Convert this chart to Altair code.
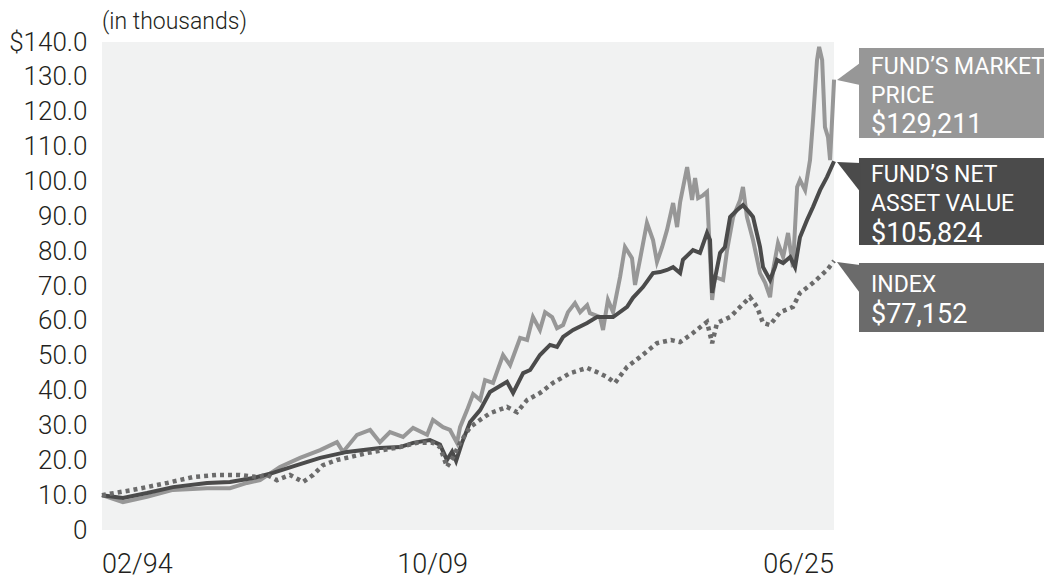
import altair as alt
import pandas as pd

# ---------------- data (values in $ thousands) ----------------
MP_DATES = [1994.08, 1994.98, 1996.01, 1997.12, 1998.58, 1999.56, 2000.29, 2000.85, 2001.70, 2002.56,
            2003.42, 2004.14, 2004.40, 2005.00, 2005.56, 2005.98, 2006.41, 2006.97, 2007.40, 2008.00,
            2008.25, 2008.68, 2008.98, 2009.28, 2009.41, 2009.71, 2009.97, 2010.27, 2010.48, 2010.82,
            2011.25, 2011.55, 2011.98, 2012.28, 2012.53, 2012.83, 2013.05, 2013.35, 2013.56, 2013.82,
            2014.03, 2014.33, 2014.55, 2014.85, 2014.97, 2015.40, 2015.53, 2015.74, 2015.96, 2016.26,
            2016.47, 2016.77, 2016.90, 2017.11, 2017.41, 2017.67, 2017.84, 2018.06, 2018.27, 2018.53,
            2018.70, 2018.83, 2019.13, 2019.34, 2019.47, 2019.60, 2019.81, 2019.98, 2020.20, 2020.32,
            2020.67, 2020.84, 2021.10, 2021.40, 2021.52, 2021.69, 2021.95, 2022.25, 2022.47, 2022.68,
            2022.81, 2023.02, 2023.24, 2023.45, 2023.66, 2023.84, 2023.96, 2024.18, 2024.39, 2024.52,
            2024.69, 2024.78, 2024.91, 2025.03, 2025.16, 2025.25, 2025.42]
MP_VALUES = [10.0, 8.0, 9.5, 11.5, 12.0, 12.0, 13.5, 14.3, 18.1, 20.7,
             22.9, 25.2, 22.4, 27.3, 28.7, 25.2, 28.1, 26.7, 29.3, 27.3,
             31.6, 29.5, 28.7, 25.0, 29.5, 34.4, 39.0, 37.3, 43.0, 42.2,
             50.2, 47.3, 55.1, 54.5, 61.1, 57.4, 62.5, 61.1, 57.9, 58.8,
             62.5, 65.1, 62.5, 64.5, 62.2, 61.1, 57.4, 66.0, 62.5, 72.6,
             81.2, 78.0, 70.3, 77.5, 88.1, 83.2, 76.9, 81.2, 86.1, 93.8,
             86.9, 94.1, 104.1, 94.7, 101.0, 95.2, 96.0, 97.0, 66.0, 72.6,
             71.7, 80.3, 89.8, 94.7, 98.4, 89.8, 83.2, 73.7, 70.9, 66.8,
             74.6, 82.3, 78.3, 85.2, 75.4, 98.4, 100.4, 97.5, 106.1, 117.6,
             134.8, 138.6, 134.8, 115.6, 112.7, 106.1, 129.2]

NAV_DATES = [1994.08, 1994.98, 1996.01, 1997.12, 1998.58, 1999.56, 2000.55, 2001.40, 2002.43, 2003.42,
             2004.57, 2005.98, 2006.84, 2007.40, 2008.12, 2008.55, 2008.85, 2009.07, 2009.24, 2009.49,
             2009.84, 2010.27, 2010.69, 2011.42, 2011.68, 2012.11, 2012.41, 2012.83, 2013.26, 2013.56,
             2013.82, 2014.25, 2014.85, 2015.27, 2015.96, 2016.56, 2016.81, 2017.24, 2017.67, 2017.97,
             2018.27, 2018.53, 2018.83, 2018.95, 2019.38, 2019.68, 2019.98, 2020.11, 2020.20, 2020.54,
             2020.75, 2020.97, 2021.27, 2021.52, 2021.82, 2021.95, 2022.25, 2022.38, 2022.68, 2022.89,
             2022.98, 2023.24, 2023.54, 2023.75, 2023.96, 2024.26, 2024.52, 2024.82, 2025.12, 2025.42]
NAV_VALUES = [10.0, 9.2, 10.6, 12.3, 13.5, 13.8, 14.9, 16.4, 18.6, 20.7,
              22.4, 23.5, 23.8, 25.0, 25.8, 24.5, 20.1, 22.5, 19.8, 25.0,
              31.0, 34.4, 39.6, 42.5, 39.3, 45.0, 45.9, 50.2, 53.1, 52.5,
              55.4, 57.4, 59.4, 61.1, 61.1, 64.0, 66.6, 69.7, 73.7, 74.0,
              74.6, 75.4, 73.7, 77.5, 80.3, 79.5, 85.2, 83.2, 68.0, 79.5,
              81.2, 89.8, 91.8, 93.2, 90.9, 89.8, 81.2, 75.4, 71.7, 75.4,
              77.5, 76.6, 78.3, 75.4, 84.0, 88.9, 92.7, 97.5, 101.3, 105.8]

IDX_DATES = [1994.08, 1995.41, 1996.87, 1997.98, 1999.01, 1999.99, 2000.72, 2001.15, 2001.57, 2002.13,
             2002.69, 2003.12, 2003.54, 2004.14, 2004.70, 2005.43, 2006.11, 2006.84, 2007.57, 2008.25,
             2008.55, 2008.85, 2009.11, 2009.41, 2009.84, 2010.27, 2010.69, 2011.42, 2011.85, 2012.28,
             2012.83, 2013.39, 2014.12, 2014.85, 2015.27, 2015.70, 2016.04, 2016.56, 2017.11, 2017.84,
             2018.44, 2018.83, 2019.38, 2019.98, 2020.20, 2020.41, 2020.97, 2021.40, 2021.82, 2022.12,
             2022.38, 2022.68, 2023.11, 2023.66, 2023.96, 2024.52, 2025.12, 2025.42]
IDX_VALUES = [10.0, 11.5, 13.5, 15.2, 15.8, 15.8, 15.2, 15.8, 14.3, 15.8,
              13.8, 15.8, 18.6, 20.1, 20.9, 22.1, 22.9, 23.8, 25.0, 25.0,
              23.8, 18.1, 20.9, 25.0, 29.5, 31.6, 33.5, 35.3, 33.8, 37.3,
              39.3, 42.2, 45.0, 46.5, 45.3, 43.9, 42.2, 46.8, 49.6, 53.6,
              54.5, 53.9, 56.5, 59.7, 53.6, 59.4, 61.1, 64.0, 66.8, 64.0,
              59.4, 58.8, 62.5, 64.0, 68.0, 70.9, 74.6, 77.2]

END_VALUES = {"mp": 129211, "nav": 105824, "idx": 77152}
X_START, X_END = 1994.083, 2025.417
X_TICK_VALUES = [1994.083, 2009.75, 2025.417]
X_TICK_LABELS = ["02/94", "10/09", "06/25"]
Y_TICKS = list(range(0, 150, 10))

# ---------------- styling ----------------
W, H = 732, 488
FONT = "Roboto"
TXT = "#231f20"
C_MP, C_NAV, C_IDX = "#979797", "#4b4b4b", "#6b6b6b"

x_scale = alt.Scale(domain=[X_START, X_END], nice=False, zero=False)
y_scale = alt.Scale(domain=[0, 140], nice=False)
y_axis = alt.Axis(values=Y_TICKS, grid=False, ticks=False, tickSize=0, domain=False,
                  labelExpr="datum.value == 140 ? '$140.0' : (datum.value == 0 ? '0' : format(datum.value, '.1f'))",
                  labelFont=FONT, labelFontSize=26, labelFontWeight=300, labelColor=TXT,
                  labelPadding=15, title=None)


def series(dates, values):
    return pd.DataFrame({"date": dates, "value": values})


def line_layer(df, color, dash=None):
    kw = dict(color=color, strokeWidth=4, strokeJoin="miter", clip=False)
    if dash:
        kw.update(strokeDash=dash, strokeCap="butt", strokeWidth=4.5)
    return alt.Chart(df).mark_line(**kw).encode(
        x=alt.X("date:Q", scale=x_scale, axis=None),
        y=alt.Y("value:Q", scale=y_scale, axis=y_axis),
        order="date:Q",
    )


one = pd.DataFrame({"a": [0]})


def callout(color, top, bottom, lines, amount, line_base, amount_base, tri):
    cx, cy, size, path = tri
    box = alt.Chart(one).mark_rect(color=color).encode(
        x=alt.value(757), x2=alt.value(942), y=alt.value(top), y2=alt.value(bottom))
    pointer = alt.Chart(one).mark_point(shape=path, size=size, filled=True, color=color,
                                        opacity=1, strokeWidth=0).encode(
        x=alt.value(cx), y=alt.value(cy))
    layers = [box, pointer]
    for i, ln in enumerate(lines):
        layers.append(alt.Chart(pd.DataFrame({"t": [ln]})).mark_text(
            align="left", baseline="alphabetic", font=FONT, fontSize=23, color="white").encode(
            text="t:N", x=alt.value(769), y=alt.value(line_base + 29 * i)))
    layers.append(alt.Chart(pd.DataFrame({"t": [amount]})).mark_text(
        align="left", baseline="alphabetic", font=FONT, fontSize=27, color="white").encode(
        text="t:N", x=alt.value(769), y=alt.value(amount_base)))
    return layers


def money(v):
    return "${:,}".format(v)


mp_line = line_layer(series(MP_DATES, MP_VALUES), C_MP)
nav_line = line_layer(series(NAV_DATES, NAV_VALUES), C_NAV)
idx_line = line_layer(series(IDX_DATES, IDX_VALUES), C_IDX, dash=[4, 4])

XLAB_Y = 531
xlab_first = alt.Chart(pd.DataFrame({"d": X_TICK_VALUES[:1], "t": X_TICK_LABELS[:1]})).mark_text(
    align="left", baseline="alphabetic", font=FONT, fontSize=27, fontWeight=300, color=TXT).encode(
    x=alt.X("d:Q", scale=x_scale, axis=None), y=alt.value(XLAB_Y), text="t:N")
xlab_rest = alt.Chart(pd.DataFrame({"d": X_TICK_VALUES[1:], "t": X_TICK_LABELS[1:]})).mark_text(
    align="right", baseline="alphabetic", font=FONT, fontSize=27, fontWeight=300, color=TXT).encode(
    x=alt.X("d:Q", scale=x_scale, axis=None), y=alt.value(XLAB_Y), text="t:N")

units = alt.Chart(pd.DataFrame({"t": ["(in thousands)"]})).mark_text(
    align="left", baseline="alphabetic", font=FONT, fontSize=23, fontWeight=300, color=TXT).encode(
    text="t:N", x=alt.value(0), y=alt.value(-13))

mp_call = callout(C_MP, 6, 96, ["FUND’S MARKET", "PRICE"], money(END_VALUES["mp"]), 32, 91,
                  (746, 32, 576, "M -0.917 0.5 L 1.0 -0.917 L 1.0 0.917 Z"))
nav_call = callout(C_NAV, 116, 203, ["FUND’S NET", "ASSET VALUE"], money(END_VALUES["nav"]), 140, 200,
                   (746, 135, 841, "M -0.76 -1.03 L 0.85 -0.97 L 0.85 1.03 Z"))
idx_call = callout(C_IDX, 221, 290, ["INDEX"], money(END_VALUES["idx"]), 250, 281,
                   (746, 235.5, 784, "M -0.79 -1.1 L 0.85 -0.89 L 0.85 1.1 Z"))

chart = alt.layer(
    mp_line, nav_line, idx_line, xlab_first, xlab_rest, units, *mp_call, *nav_call, *idx_call
).properties(
    width=W, height=H,
    autosize=alt.AutoSizeParams(type="none"),
    padding={"left": 94, "top": 34, "right": 210, "bottom": 49},
    background="white",
).configure_view(stroke=None, fill="#f1f2f2")

chart.save("out.html", embed_options={"renderer": "svg", "actions": False})
